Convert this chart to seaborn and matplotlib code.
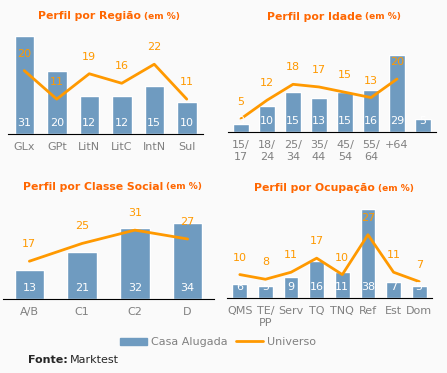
import numpy as np
import pandas as pd
import seaborn as sns
import matplotlib.pyplot as plt
from matplotlib.patches import Patch
from matplotlib.lines import Line2D

# Data
regiao_cats = ['GLx', 'GPt', 'LitN', 'LitC', 'IntN', 'Sul']
regiao_casa = [31, 20, 12, 12, 15, 10]
regiao_univ = [20, 11, 19, 16, 22, 11]

idade_cats = ['15/\n17', '18/\n24', '25/\n34', '35/\n44', '45/\n54', '55/\n64', '+64', '']
idade_casa = [3, 10, 15, 13, 15, 16, 29, 5]
idade_univ = [5, 12, 18, 17, 15, 13, 20, np.nan]

classe_cats = ['A/B', 'C1', 'C2', 'D']
classe_casa = [13, 21, 32, 34]
classe_univ = [17, 25, 31, 27]

ocup_cats = ['QMS', 'TE/\nPP', 'Serv', 'TQ', 'TNQ', 'Ref', 'Est', 'Dom']
ocup_casa = [6, 5, 9, 16, 11, 38, 7, 5]
ocup_univ = [10, 8, 11, 17, 10, 27, 11, 7]

BLUE = '#6f9bc0'
ORANGE = '#ff9900'
TITLE = '#ff6600'
GREY = '#808080'
W, H = 447, 373

sns.set_style('white')
plt.rcParams['font.family'] = ['DejaVu Sans']

fig = plt.figure(figsize=(W / 100, H / 100), dpi=100, facecolor='#fafafa')


def px_axes(left, right, base, top):
    return fig.add_axes([left / W, (H - base) / H, (right - left) / W, (base - top) / H])


def panel(ax, cats, casa, univ, ymax, width, title_main, split_x, title_y):
    n = len(cats)
    df = pd.DataFrame({'cat': cats, 'casa': casa, 'univ': univ, 'pos': np.arange(n)})
    sns.barplot(data=df, x='cat', y='casa', ax=ax, color=BLUE, saturation=1,
                width=width, order=cats)
    sns.lineplot(data=df, x='pos', y='univ', ax=ax, color=ORANGE, linewidth=2)
    for i, (c, u) in enumerate(zip(casa, univ)):
        ax.annotate(str(c), (i, 0), xytext=(0, 11), textcoords='offset pixels',
                    ha='center', va='center', color='white', fontsize=8)
        if not np.isnan(u):
            ax.annotate(str(int(u)), (i, u), xytext=(0, 17), textcoords='offset pixels',
                        ha='center', va='center', color=ORANGE, fontsize=8)
    ax.set_xlim(-0.5, n - 0.5)
    ax.set_ylim(0, ymax)
    ax.set_facecolor('none')
    ax.set_xlabel('')
    ax.set_ylabel('')
    ax.set_yticks([])
    for s in ['left', 'top', 'right']:
        ax.spines[s].set_visible(False)
    ax.spines['bottom'].set_color('black')
    ax.set_xticks(np.arange(n))
    ax.set_xticklabels(cats)
    ax.set_xticks(np.arange(n + 1) - 0.5, minor=True)
    ax.tick_params(axis='x', which='major', length=0, colors=GREY, labelsize=8, pad=6)
    ax.tick_params(axis='x', which='minor', length=4, color='black', direction='out')
    fig.text(split_x / W, 1 - title_y / H, title_main, ha='right', va='center',
             color=TITLE, fontsize=7.8, fontweight='bold')
    fig.text((split_x + 3) / W, 1 - title_y / H, '(em %)', ha='left', va='center',
             color=TITLE, fontsize=6.5, fontweight='bold')


ax1 = px_axes(8, 203, 134, 30)
panel(ax1, regiao_cats, regiao_casa, regiao_univ, 32.8, 0.6, 'Perfil por Região', 141, 16)

ax2 = px_axes(228, 436, 132, 30)
panel(ax2, idade_cats, idade_casa, idade_univ, 38.5, 0.58, 'Perfil por Idade', 362, 17)

ax3 = px_axes(3, 214, 299, 215)
panel(ax3, classe_cats, classe_casa, classe_univ, 37.8, 0.56, 'Perfil por Classe Social', 163, 187)

ax4 = px_axes(227, 432, 298, 205)
panel(ax4, ocup_cats, ocup_casa, ocup_univ, 39.7, 0.58, 'Perfil por Ocupação', 375, 188)

# Legend
handles = [Patch(color=BLUE), Line2D([], [], color=ORANGE, linewidth=2)]
leg = fig.legend(handles, ['Casa Alugada', 'Universo'], loc='center',
                 bbox_to_anchor=(218 / W, 1 - 342 / H), ncol=2, frameon=False,
                 fontsize=8, handlelength=2.4, handleheight=0.6, handletextpad=0.35,
                 columnspacing=0.8)
for t in leg.get_texts():
    t.set_color(GREY)

fig.text(28 / W, 1 - 360 / H, 'Fonte:', fontweight='bold', fontsize=8, va='center', ha='left')
fig.text(70 / W, 1 - 360 / H, 'Marktest', fontsize=8, va='center', ha='left')

fig.savefig('out.png', dpi=100, facecolor=fig.get_facecolor())
